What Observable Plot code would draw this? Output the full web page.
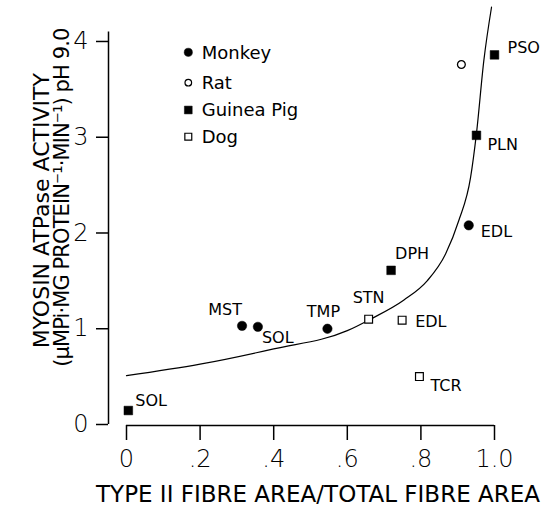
<!DOCTYPE html>
<html>
<head>
<meta charset="utf-8">
<script src="https://cdn.jsdelivr.net/npm/d3@7"></script>
<script src="https://cdn.jsdelivr.net/npm/@observablehq/plot@0.6"></script>
<style>
  html, body { margin: 0; padding: 0; background: #fff; }
  #chart svg { display: block; }
</style>
</head>
<body>
<div id="chart"></div>
<script>
// ---- data ----
const muscles   = ["MST", "SOL", "TMP", "EDL", "", "PSO", "PLN", "DPH", "SOL", "STN", "EDL", "TCR"];
const species   = ["Monkey", "Monkey", "Monkey", "Monkey", "Rat", "Guinea Pig", "Guinea Pig", "Guinea Pig", "Guinea Pig", "Dog", "Dog", "Dog"];
const fibreArea = [0.314, 0.357, 0.546, 0.93, 0.91, 1.0, 0.951, 0.719, 0.005, 0.658, 0.749, 0.796];
const activity  = [1.03, 1.02, 1.00, 2.08, 3.76, 3.86, 3.02, 1.61, 0.146, 1.10, 1.09, 0.50];

const curveX = [0, 0.2, 0.4, 0.6, 0.663, 0.754, 0.817, 0.867, 0.903, 0.935, 0.951, 0.971, 0.992];
const curveY = [0.51, 0.63, 0.79, 0.98, 1.10, 1.30, 1.50, 1.78, 2.13, 2.58, 3.04, 3.80, 4.36];

const legendLabels = ["Monkey", "Rat", "Guinea Pig", "Dog"];
const xTicks = [0, 0.2, 0.4, 0.6, 0.8, 1.0];
const xTickLabels = ["0", ".2", ".4", ".6", ".8", "1.0"];
const yTicks = [0, 1, 2, 3, 4];
const yTickLabels = ["0", "1", "2", "3", "4"];

const xTitle = "TYPE II FIBRE AREA/TOTAL FIBRE AREA";
const yTitle1 = "MYOSIN ATPase ACTIVITY";
const yTitle2 = "(µMPi·MG PROTEIN⁻¹·MIN⁻¹) pH 9.0";

// ---- derived tables ----
const points = fibreArea.map((x, i) => ({x, y: activity[i], species: species[i], muscle: muscles[i]}));
const curve = curveX.map((x, i) => ({x, y: curveY[i]}));

// ---- styling ----
const FONT = "DejaVu Sans";
const markerStyle = {
  "Monkey":     {symbol: "circle", fill: "black", stroke: "black", r: 4.7, strokeWidth: 0.5},
  "Rat":        {symbol: "circle", fill: "white", stroke: "black", r: 3.9, strokeWidth: 1.3},
  "Guinea Pig": {symbol: "square", fill: "black", stroke: "black", r: 4.9, strokeWidth: 0.5},
  "Dog":        {symbol: "square", fill: "white", stroke: "black", r: 4.4, strokeWidth: 1.2}
};
// label placement relative to each point (pixels)
const labelPlace = [
  {anchor: "end",    dx: 0,   dy: -11},
  {anchor: "start",  dx: 4,   dy: 16},
  {anchor: "middle", dx: -4,  dy: -12},
  {anchor: "start",  dx: 12,  dy: 12},
  {anchor: "start",  dx: 0,   dy: 0},
  {anchor: "start",  dx: 13,  dy: -2},
  {anchor: "start",  dx: 11,  dy: 15},
  {anchor: "start",  dx: 4,   dy: -11},
  {anchor: "start",  dx: 7,   dy: -5},
  {anchor: "middle", dx: 0,   dy: -16},
  {anchor: "start",  dx: 13,  dy: 7},
  {anchor: "start",  dx: 11,  dy: 14}
];

const dotMarks = legendLabels.map(sp => {
  const s = markerStyle[sp];
  return Plot.dot(points.filter(d => d.species === sp), {
    x: "x", y: "y", symbol: () => s.symbol, r: s.r,
    fill: s.fill, stroke: s.stroke, strokeWidth: s.strokeWidth
  });
});

const labelMarks = points.map((d, i) => d.muscle ? Plot.text([d], {
  x: "x", y: "y", text: "muscle",
  textAnchor: labelPlace[i].anchor, lineAnchor: "bottom",
  dx: labelPlace[i].dx, dy: labelPlace[i].dy,
  fontSize: 16, fill: "black"
}) : null).filter(Boolean);

const chart = Plot.plot({
  width: 557,
  height: 508,
  marginLeft: 126,
  marginRight: 63,
  marginTop: 31.4,
  marginBottom: 84,
  style: {fontFamily: FONT, background: "white", color: "black", overflow: "visible"},
  x: {domain: [0, 1]},
  y: {domain: [0, 4.1]},
  symbol: {type: "identity"},
  marks: [
    // axis lines
    Plot.ruleX([0], {y1: 0, y2: 4.1, dx: -18, strokeWidth: 1.5}),
    Plot.ruleY([0], {x1: 0, x2: 1, dy: 1, strokeWidth: 1.5}),
    Plot.axisY({
      ticks: yTicks, tickFormat: d => yTickLabels[yTicks.indexOf(d)],
      tickSize: 12, tickPadding: 8, dx: -18, fontSize: 24, fontWeight: 300, strokeWidth: 1.5, label: null
    }),
    Plot.axisX({
      ticks: xTicks, tickFormat: d => xTickLabels[xTicks.indexOf(d)],
      tickSize: 15, tickPadding: 9, dy: 1, fontSize: 24, fontWeight: 300, strokeWidth: 1.5, label: null
    }),
    // fitted curve
    Plot.line(curve, {x: "x", y: "y", curve: "monotone-x", stroke: "black", strokeWidth: 1.2}),
    ...dotMarks,
    ...labelMarks,
    // axis titles
    Plot.text([xTitle], {frameAnchor: "bottom", text: d => d, textAnchor: "middle", lineAnchor: "bottom",
      dx: 7.5, dy: 77, fontSize: 23, fill: "black"}),
    Plot.text([yTitle1], {frameAnchor: "left", text: d => d, rotate: -90, textAnchor: "middle", lineAnchor: "bottom",
      dx: -77.5, dy: -17.5, fontSize: 22, fill: "black"}),
    Plot.text([yTitle2], {frameAnchor: "left", text: d => d, rotate: -90, textAnchor: "middle", lineAnchor: "bottom",
      dx: -57.5, dy: -30.5, fontSize: 21, fill: "black", className: "ytitle2"})
  ]
});

document.getElementById("chart").appendChild(chart);

// tighten the long second title line so it fits like the reference
d3.select(chart).selectAll(".ytitle2 text").attr("letter-spacing", "-0.9px");

// ---- legend (inset, top-left of the plot area) ----
const svg = d3.select(chart);
const lg = svg.append("g").attr("class", "legend").attr("transform", "translate(188.3,52.3)");
const legendSpacing = [0, 30.4, 57.7, 84.4];
const legendSymbolSize = {"Monkey": 4.1, "Rat": 3.3, "Guinea Pig": 4.4, "Dog": 3.9};
legendLabels.forEach((sp, i) => {
  const s = markerStyle[sp];
  const g = lg.append("g").attr("transform", `translate(0,${legendSpacing[i]})`);
  const rr = legendSymbolSize[sp];
  const sym = s.symbol === "circle" ? d3.symbolCircle : d3.symbolSquare;
  g.append("path")
    .attr("d", d3.symbol(sym, Math.PI * rr * rr)())
    .attr("fill", s.fill).attr("stroke", "black").attr("stroke-width", s.fill === "white" ? 1.2 : 0.5);
  g.append("text").text(sp)
    .attr("x", 13.4).attr("y", 6.2)
    .attr("text-anchor", "start")
    .attr("font-family", FONT).attr("font-size", 18).attr("fill", "black");
});
</script>
</body>
</html>
